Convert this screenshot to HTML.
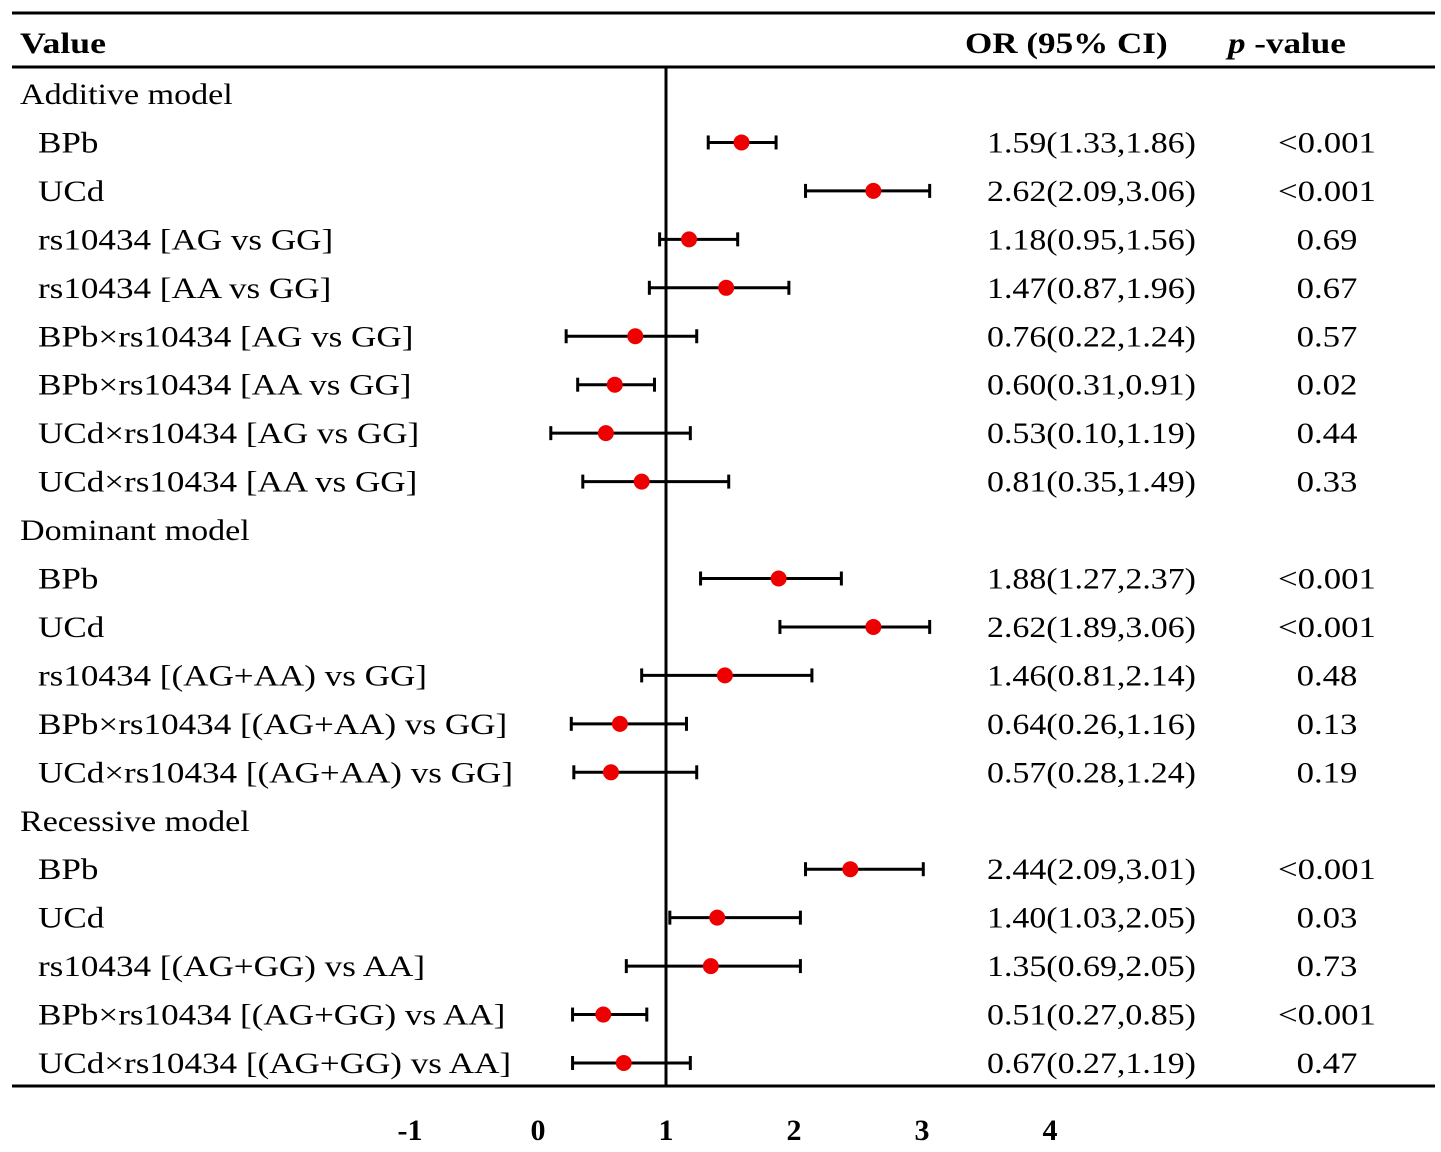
<!DOCTYPE html>
<html><head><meta charset="utf-8"><style>
html,body{margin:0;padding:0;background:#fff;}
svg{display:block;}
text{font-family:"Liberation Serif",serif;fill:#000;}
</style></head><body>
<svg id="chart" width="1441" height="1152" viewBox="0 0 1441 1152">
<g id="g"></g>
</svg>
<script>
const labels=["Additive model","BPb","UCd","rs10434 [AG vs GG]","rs10434 [AA vs GG]","BPb×rs10434 [AG vs GG]","BPb×rs10434 [AA vs GG]","UCd×rs10434 [AG vs GG]","UCd×rs10434 [AA vs GG]","Dominant model","BPb","UCd","rs10434 [(AG+AA) vs GG]","BPb×rs10434 [(AG+AA) vs GG]","UCd×rs10434 [(AG+AA) vs GG]","Recessive model","BPb","UCd","rs10434 [(AG+GG) vs AA]","BPb×rs10434 [(AG+GG) vs AA]","UCd×rs10434 [(AG+GG) vs AA]"];
const orVals=[null,1.59,2.62,1.18,1.47,0.76,0.60,0.53,0.81,null,1.88,2.62,1.46,0.64,0.57,null,2.44,1.40,1.35,0.51,0.67];
const lower=[null,1.33,2.09,0.95,0.87,0.22,0.31,0.10,0.35,null,1.27,1.89,0.81,0.26,0.28,null,2.09,1.03,0.69,0.27,0.27];
const upper=[null,1.86,3.06,1.56,1.96,1.24,0.91,1.19,1.49,null,2.37,3.06,2.14,1.16,1.24,null,3.01,2.05,2.05,0.85,1.19];
const pvals=[null,"<0.001","<0.001","0.69","0.67","0.57","0.02","0.44","0.33",null,"<0.001","<0.001","0.48","0.13","0.19",null,"<0.001","0.03","0.73","<0.001","0.47"];
const ticks=[-1,0,1,2,3,4];
const NS="http://www.w3.org/2000/svg";
const g=document.getElementById('g');
const xs=v=>538+128*v;
const ys=i=>94+i*48.45;
function mk(t,a,txt){const e=document.createElementNS(NS,t);for(const k in a)e.setAttribute(k,a[k]);if(txt!=null)e.textContent=txt;g.appendChild(e);return e;}
function tx(x,y,sx,a,txt){a.x=0;a.y=0;a.transform='translate('+x+','+y+') scale('+sx+',1)';return mk('text',a,txt);}
let e;
e=mk('line',{x1:12,x2:1435,y1:13,y2:13,stroke:'#000','stroke-width':3});

e=mk('line',{x1:12,x2:1435,y1:67,y2:67,stroke:'#000','stroke-width':3});

e=mk('line',{x1:12,x2:1435,y1:1086,y2:1086,stroke:'#000','stroke-width':3});

e=mk('line',{x1:xs(1),x2:xs(1),y1:67,y2:1086,stroke:'#000','stroke-width':3});

e=tx(20,53,1.19,{'font-size':30,'font-weight':'bold'},'Value');

e=tx(965,53,1.17,{'font-size':30,'font-weight':'bold'},'OR (95% CI)');

e=tx(1228,53,1.17,{'font-size':30,'font-weight':'bold'});
e.innerHTML='<tspan font-style="italic">p</tspan> -value';

labels.forEach((l,i)=>{
  const y=ys(i);
  const grp=orVals[i]==null;
  e=tx(grp?20:38,y+10,grp?1.135:1.17,{'font-size':30},l);
  
  if(grp)return;
  e=mk('line',{x1:xs(lower[i]),x2:xs(upper[i]),y1:y,y2:y,stroke:'#000','stroke-width':3});
  
  [lower[i],upper[i]].forEach(v=>{
    e=mk('line',{x1:xs(v),x2:xs(v),y1:y-7,y2:y+7,stroke:'#000','stroke-width':3});
    
  });
  e=mk('circle',{cx:xs(orVals[i]),cy:y,r:8,fill:'#ee0000'});
  
  e=tx(987,y+10,1.13,{'font-size':30},orVals[i].toFixed(2)+'('+lower[i].toFixed(2)+','+upper[i].toFixed(2)+')');
  
  e=tx(1327,y+10,1.16,{'font-size':30,'text-anchor':'middle'},pvals[i]);
  
});
ticks.forEach(t=>{
  e=mk('text',{x:xs(t),y:1140,'font-size':30,'font-weight':'bold','text-anchor':'middle'},String(t));
  
});
</script>
</body></html>
